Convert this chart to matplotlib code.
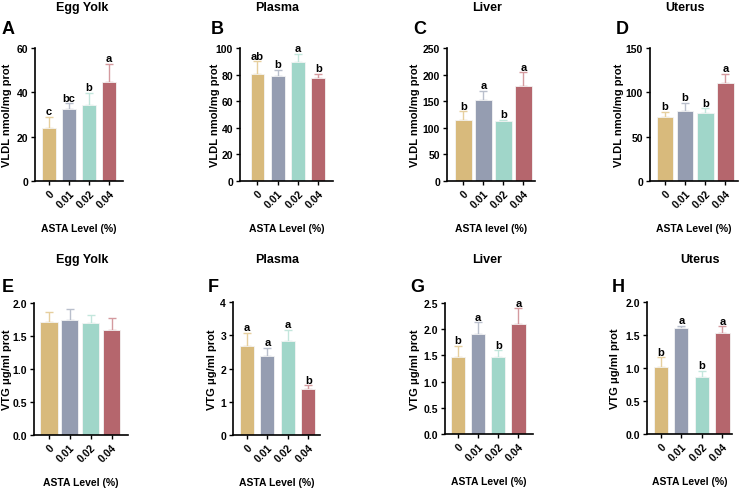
import numpy as np
import matplotlib
matplotlib.use("Agg")
from matplotlib import pyplot as plt

plt.rcParams["font.family"] = ["Liberation Sans", "DejaVu Sans"]
plt.rcParams["font.weight"] = "bold"

levels = ["0", "0.01", "0.02", "0.04"]
bar_colors = ["#D8BA7C", "#959DB1", "#A0D6C9", "#B5666D"]
err_colors = ["#E6CF9E", "#B9BFCC", "#C3E6DC", "#D49A9F"]

tissues = ["Egg Yolk", "Plasma", "Liver", "Uterus"]

# VLDL (top row)
vldl_means = [
    [24.0, 32.3, 34.2, 44.5],
    [80.3, 78.6, 89.8, 77.1],
    [114.0, 152.0, 112.0, 178.0],
    [72.0, 79.0, 77.0, 111.0],
]
vldl_errs = [
    [5.0, 2.8, 5.5, 8.5],
    [9.7, 5.0, 6.0, 3.7],
    [17.0, 18.0, 3.0, 26.0],
    [6.0, 9.0, 5.0, 10.0],
]
vldl_letters = [
    ["c", "bc", "b", "a"],
    ["ab", "b", "a", "b"],
    ["b", "a", "b", "a"],
    ["b", "b", "b", "a"],
]
vldl_ylim = [60, 100, 250, 150]
vldl_step = [20, 20, 50, 50]

# VTG (bottom row)
vtg_means = [
    [1.71, 1.75, 1.70, 1.59],
    [2.67, 2.37, 2.83, 1.37],
    [1.46, 1.91, 1.46, 2.10],
    [1.02, 1.60, 0.87, 1.53],
]
vtg_errs = [
    [0.15, 0.16, 0.12, 0.18],
    [0.40, 0.25, 0.33, 0.12],
    [0.22, 0.22, 0.14, 0.30],
    [0.14, 0.04, 0.09, 0.10],
]
vtg_letters = [
    ["", "", "", ""],
    ["a", "a", "a", "b"],
    ["b", "a", "b", "a"],
    ["b", "a", "b", "a"],
]
vtg_ylim = [2.0, 4.0, 2.5, 2.0]
vtg_step = [0.5, 1.0, 0.5, 0.5]

panel_letters = ["A", "B", "C", "D", "E", "F", "G", "H"]
xlabels = ["ASTA Level (%)", "ASTA Level (%)", "ASTA level (%)", "ASTA Level (%)"] + ["ASTA Level (%)"] * 4

W, H = 740, 489
fig = plt.figure(figsize=(W / 100, H / 100), dpi=100)

# layout (pixels): axes box left, top, right, bottom; x limits; bar width; y-label centre
boxes = [(35, 49, 123, 182), (240, 49, 333, 182), (447, 49, 535, 182), (650, 49, 738, 182),
         (34, 304, 128, 436), (233, 303, 320, 436), (445, 304, 533, 435), (647, 303, 732, 435)]
xlims = [(-0.71, 3.70), (-0.86, 3.72), (-0.81, 3.58), (-0.74, 3.62),
         (-0.70, 3.78), (-0.67, 3.57), (-0.63, 3.72), (-0.67, 3.47)]
bar_w = [0.68, 0.68, 0.86, 0.83, 0.84, 0.67, 0.70, 0.70]
ylab_x = [7, 215, 415, 619, 7, 212, 415, 615]


def draw_panel(k, means, errs, letters, ymax, ystep, ylabel, xlabel):
    l, t, r, b = boxes[k]
    ax = fig.add_axes([l / W, 1 - b / H, (r - l) / W, (b - t) / H])
    x = np.arange(len(levels))
    ax.bar(x, means, width=bar_w[k], color=bar_colors, edgecolor="#f4f4f4", linewidth=0.6, zorder=2)
    for i in range(len(levels)):
        ax.errorbar(x[i], means[i], yerr=[[0], [errs[i]]], ecolor=err_colors[i],
                    elinewidth=1.0, capsize=3, capthick=1.0, fmt="none", zorder=1)
        if letters[i]:
            ax.text(x[i], means[i] + errs[i] + ymax * 0.005, letters[i], ha="center", va="bottom",
                    fontsize=8, fontweight="bold")
    ax.set_xlim(*xlims[k])
    ax.set_ylim(0, ymax)
    ticks = np.arange(0, ymax + ystep / 2, ystep)
    ax.set_yticks(ticks)
    if ystep < 1:
        ax.set_yticklabels([f"{v:.1f}" for v in ticks])
    ax.set_xticks(x)
    ax.set_xticklabels(levels, rotation=45, ha="right", rotation_mode="anchor")
    for s in ["top", "right"]:
        ax.spines[s].set_visible(False)
    for s in ["left", "bottom"]:
        ax.spines[s].set_linewidth(1.2)
    ax.tick_params(axis="both", labelsize=7.5, width=1.0, length=3, pad=2)
    for lab in ax.get_xticklabels() + ax.get_yticklabels():
        lab.set_fontweight("bold")
    ax.set_ylabel(ylabel, fontsize=8, fontweight="bold", va="center")
    ax.yaxis.set_label_coords((ylab_x[k] - l) / (r - l), 0.5)
    ax.set_xlabel(xlabel, fontsize=7.5, fontweight="bold", labelpad=10)
    return ax


title_x = [82, 277, 487, 685, 82, 277, 487, 700]
letter_x = [8, 217, 420, 622, 8, 213, 417, 618]

for k in range(4):
    draw_panel(k, vldl_means[k], vldl_errs[k], vldl_letters[k],
               vldl_ylim[k], vldl_step[k], "VLDL nmol/mg prot", xlabels[k])
    draw_panel(k + 4, vtg_means[k], vtg_errs[k], vtg_letters[k],
               vtg_ylim[k], vtg_step[k], "VTG \u03bcg/ml prot", xlabels[k + 4])
    fig.text(title_x[k] / W, 1 - 8 / H, tissues[k], ha="center", va="center", fontsize=9, fontweight="bold")
    fig.text(title_x[k + 4] / W, 1 - 260 / H, tissues[k], ha="center", va="center", fontsize=9, fontweight="bold")
    fig.text(letter_x[k] / W, 1 - 30 / H, panel_letters[k], ha="center", va="center", fontsize=13, fontweight="bold")
    fig.text(letter_x[k + 4] / W, 1 - 288 / H, panel_letters[k + 4], ha="center", va="center", fontsize=13, fontweight="bold")

fig.savefig("out.png", dpi=100, facecolor="white")
